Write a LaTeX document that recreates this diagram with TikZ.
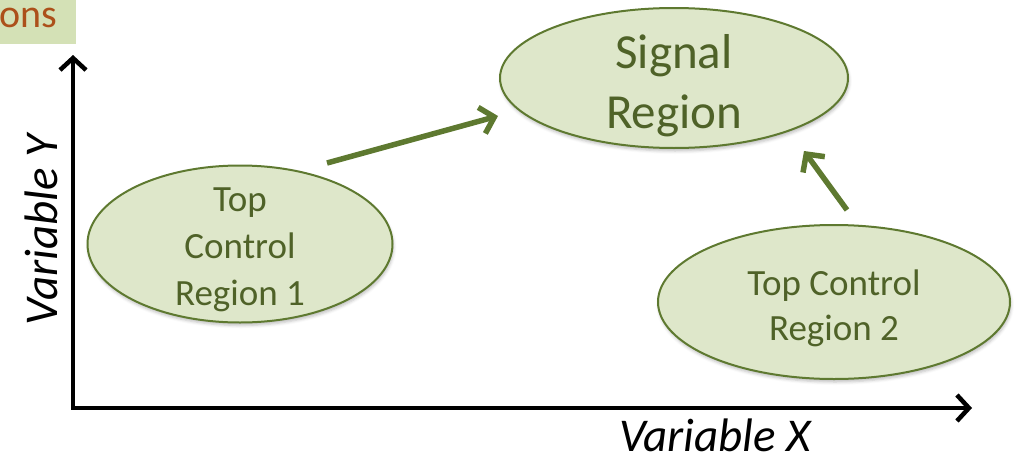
\documentclass[tikz,border=0pt]{standalone}
\usepackage{fontspec}
\setmainfont{Carlito}
\usetikzlibrary{
    shapes.geometric,
    arrows.meta,
    shadows.blur
}
\definecolor{olivefill}{RGB}{222,231,202}
\definecolor{olivedraw}{RGB}{94,121,48}
\definecolor{olivetext}{RGB}{79,98,40}
\definecolor{tabfill}{RGB}{212,225,182}
\definecolor{tabtext}{RGB}{172,80,26}
\newcommand{\lift}[1]{\rule{0pt}{#1}}
\tikzset{
    % Regions
    region/.style={
        ellipse,
        draw=olivedraw,
        line width=2pt,
        fill=olivefill,
        inner sep=-40pt,
        align=center,
        text=olivetext,
        blur shadow={shadow xshift=1pt, shadow yshift=-3pt, shadow blur radius=3pt, shadow opacity=25}
    },
    % Header tab
    tabbox/.style={
        rectangle,
        fill=tabfill,
        inner sep=0pt,
        text=tabtext,
        font=\fontsize{40}{44}\selectfont
    },
    % Arrows
    axis/.style={
        {Straight Barb[length=12pt, width=26pt]}-{Straight Barb[length=12pt, width=26pt]},
        line width=4.5pt,
        draw=black
    },
    flow/.style={
        -{Straight Barb[length=13pt, width=27pt]},
        line width=5.5pt,
        draw=olivedraw
    },
    % Labels
    axislabel/.style={
        font=\fontsize{47}{52}\selectfont\itshape,
        text=black
    }
}

\begin{document}
\begin{tikzpicture}[x=1pt, y=-1pt]

    \useasboundingbox (0,0) rectangle (1014,455);

    % Header tab
    \node[tabbox, anchor=north west, minimum width=77pt, text width=77pt,
          text height=27pt, text depth=17pt, align=left] (tab) at (-1,0) {ons};

    % Axes
    \coordinate (ytip) at (73,55);
    \coordinate (xtip) at (972,408);
    \draw[axis] (ytip) |- (xtip);

    \node[axislabel, rotate=90, anchor=base] (ylabel) at (57,230) {Variable Y};
    \node[axislabel, anchor=base] (xlabel) at (715,451) {Variable X};

    % Regions
    \node[region, minimum width=305pt, minimum height=157pt,
          font=\fontsize{37}{47}\selectfont] (tcr1) at (240,244) {\lift{36pt}Top\\Control\\Region 1};
    \node[region, minimum width=348pt, minimum height=140pt,
          font=\fontsize{49}{60}\selectfont] (sr) at (674,78) {\lift{50pt}Signal\\Region};
    \node[region, minimum width=352pt, minimum height=154pt,
          font=\fontsize{37}{45}\selectfont] (tcr2) at (834,302) {\lift{39pt}Top Control\\Region 2};

    % Flows into the signal region
    \coordinate (from1) at (327,163);
    \coordinate (to1) at (498,116);
    \coordinate (from2) at (847,210);
    \coordinate (to2) at (804,151);
    \draw[flow] (from1) -- (to1);
    \draw[flow] (from2) -- (to2);

\end{tikzpicture}
\end{document}
